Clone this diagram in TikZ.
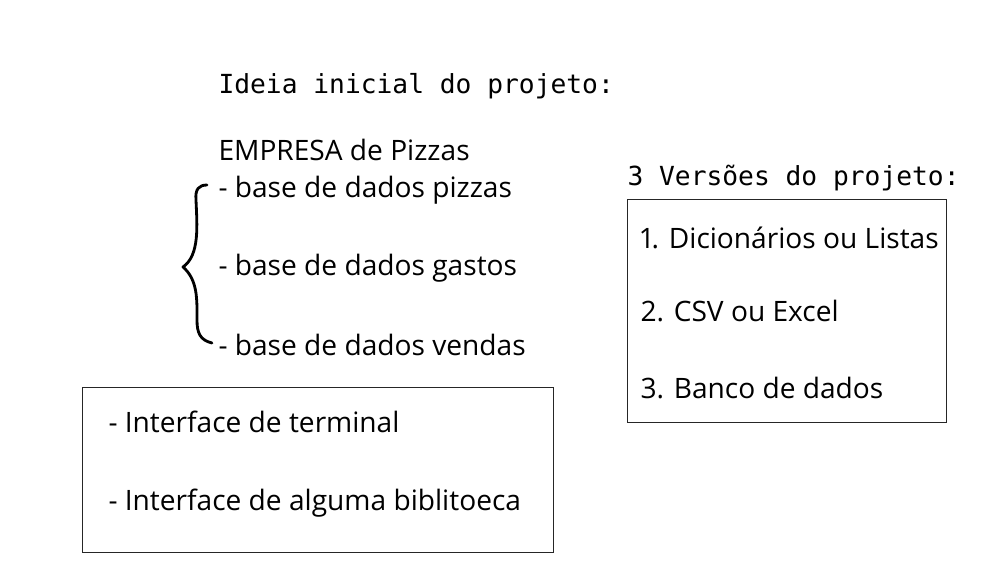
\documentclass[tikz,border=0pt]{standalone}
\usepackage{fontspec}
\setmainfont[Numbers=Proportional]{Open Sans}
\newfontfamily\monofont{DejaVu Sans Mono}
\usetikzlibrary{positioning}
\tikzset{T/.style={anchor=west, inner sep=0pt, font=\fontsize{16}{19}\selectfont},
         M/.style={anchor=west, inner sep=0pt, font=\monofont\fontsize{14.95}{18}\selectfont},
         B/.style={draw=black!85, line width=0.6pt, anchor=north west, inner sep=0pt}}

\begin{document}
\begin{tikzpicture}[x=0.02cm, y=-0.02cm, semithick]
\useasboundingbox (0,0) rectangle (1000,569);
\node[M] (ideia) at (218,86) {Ideia inicial do projeto:};
\node[T] (empresa) at (218,150) {EMPRESA de Pizzas};
\node[T] (pizzas) at (218,190) {- base de dados pizzas};
\node[T] (gastos) at (218,268) {- base de dados gastos};
\node[T] (vendas) at (218,345) {- base de dados vendas};
%
\node[M] (versoes) at (627,178) {3 Versões do projeto:};
\node[B, minimum width=319*0.02cm, minimum height=223*0.02cm] (V) at (627,199) {};
\node[T] (v1) at (640,238) {1. Dicionários ou Listas};
\node[T] (v2) at (640,311) {2. CSV ou Excel};
\node[T] (v3) at (640,388) {3. Banco de dados};
%
\node[B, minimum width=471*0.02cm, minimum height=165*0.02cm] (I) at (82,387) {};
\node[T] (i1) at (108,422) {- Interface de terminal};
\node[T] (i2) at (108,503) {- Interface de alguma biblitoeca};
%
\coordinate (c1) at (207,185);
\coordinate (c2) at (183,267);
\coordinate (c3) at (212,343);
\draw[line width=1.6pt, line cap=round, line join=round]
  (c1) .. controls (199,185) and (195,189) .. (196,200)
  .. controls (197,225) and (200,255) .. (c2)
  .. controls (198,280) and (197,300) .. (197,320)
  .. controls (197,333) and (200,340) .. (c3);
\end{tikzpicture}
\end{document}
